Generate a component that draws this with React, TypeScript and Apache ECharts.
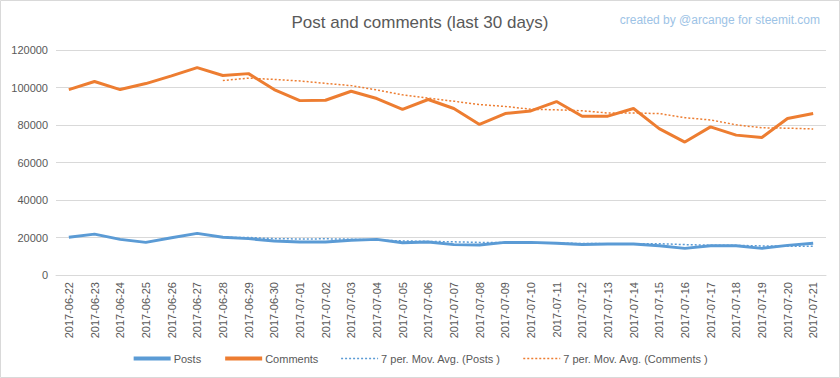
import React, { useEffect, useRef } from "react";
import * as echarts from "echarts";

const categories = [
  "2017-06-22", "2017-06-23", "2017-06-24", "2017-06-25", "2017-06-26", "2017-06-27",
  "2017-06-28", "2017-06-29", "2017-06-30", "2017-07-01", "2017-07-02", "2017-07-03",
  "2017-07-04", "2017-07-05", "2017-07-06", "2017-07-07", "2017-07-08", "2017-07-09",
  "2017-07-10", "2017-07-11", "2017-07-12", "2017-07-13", "2017-07-14", "2017-07-15",
  "2017-07-16", "2017-07-17", "2017-07-18", "2017-07-19", "2017-07-20", "2017-07-21",
];

const posts = [
  20100, 21800, 19000, 17400, 19900, 22200, 20100, 19400, 18100, 17600,
  17600, 18500, 19000, 17200, 17600, 16200, 16000, 17400, 17400, 16900,
  16300, 16500, 16500, 15600, 14200, 15600, 15600, 14200, 15800, 16900,
];

const comments = [
  98900, 103200, 98900, 102100, 106200, 110600, 106400, 107400, 98900, 93000,
  93200, 98000, 94100, 88300, 93600, 88800, 80300, 86100, 87500, 92500,
  84700, 84700, 88800, 78100, 70900, 79000, 74600, 73300, 83500, 86100,
];

const postsAvg = [
  null, null, null, null, null, null, 20100, 20000, 19400, 19200,
  19300, 19100, 18600, 18200, 17900, 17700, 17400, 17400, 17300, 17000,
  16800, 16700, 16700, 16700, 16200, 15900, 15800, 15500, 15400, 15400,
];

const commentsAvg = [
  null, null, null, null, null, null, 103700, 105000, 104300, 103500,
  102200, 101000, 98700, 96100, 94300, 92700, 90900, 89900, 88400, 88100,
  87600, 86400, 86400, 86100, 83900, 82700, 80100, 78500, 78300, 77900,
];

const seriesNames = [
  "Posts",
  "Comments",
  "7 per. Mov. Avg. (Posts )",
  "7 per. Mov. Avg. (Comments )",
];

const BLUE = "#5B9BD5";
const ORANGE = "#ED7D31";
const TEXT = "#595959";
const GRID = "#D9D9D9";
const FONT = "'Liberation Sans', Arial, sans-serif";

export default function App() {
  const ref = useRef<HTMLDivElement>(null);
  useEffect(() => {
    document.body.style.margin = "0";
    const chart = echarts.init(ref.current!, null, { renderer: "svg" });
    const hidden = { opacity: 0 };
    chart.setOption({
      animation: false,
      backgroundColor: "#ffffff",
      textStyle: { fontFamily: FONT },
      title: [
        {
          text: "Post and comments (last 30 days)",
          left: "center",
          top: 9,
          textStyle: { fontSize: 17, fontWeight: "normal", color: TEXT, fontFamily: FONT },
        },
        {
          text: "created by @arcange for steemit.com",
          right: 15,
          top: 9,
          textStyle: { fontSize: 12, fontWeight: "normal", color: "#9DC3E6", fontFamily: FONT },
        },
      ],
      graphic: [
        {
          type: "rect",
          shape: { x: 0.5, y: 0.5, width: 839, height: 377 },
          style: { fill: "none", stroke: GRID, lineWidth: 1 },
          silent: true,
        },
      ],
      grid: { left: 56, right: 14, top: 50, bottom: 103 },
      legend: {
        bottom: 9,
        left: "center",
        itemWidth: 37,
        itemHeight: 10,
        itemGap: 22,
        textStyle: { color: TEXT, fontSize: 11, fontFamily: FONT, padding: [0, 0, 0, -2] },
        data: [
          { name: seriesNames[0], itemStyle: hidden, lineStyle: { width: 4, color: BLUE, type: "solid" } },
          { name: seriesNames[1], itemStyle: hidden, lineStyle: { width: 4, color: ORANGE, type: "solid" } },
          { name: seriesNames[2], itemStyle: hidden, lineStyle: { width: 1.5, color: BLUE, type: [2, 2] } },
          { name: seriesNames[3], itemStyle: hidden, lineStyle: { width: 1.5, color: ORANGE, type: [2, 2] } },
        ],
      },
      xAxis: {
        type: "category",
        data: categories,
        boundaryGap: true,
        axisLine: { lineStyle: { color: GRID } },
        axisTick: { show: false },
        axisLabel: { rotate: 90, color: TEXT, fontSize: 11, margin: 7, interval: 0, fontFamily: FONT },
      },
      yAxis: {
        type: "value",
        min: 0,
        max: 120000,
        interval: 20000,
        axisLine: { show: false },
        axisTick: { show: false },
        splitLine: { lineStyle: { color: GRID } },
        axisLabel: {
          color: TEXT,
          fontSize: 11,
          margin: 8,
          fontFamily: FONT,
          formatter: (v: number) => String(v),
        },
      },
      series: [
        {
          name: seriesNames[0],
          type: "line",
          data: posts,
          symbol: "none",
          lineStyle: { color: BLUE, width: 3 },
          itemStyle: { color: BLUE },
        },
        {
          name: seriesNames[1],
          type: "line",
          data: comments,
          symbol: "none",
          lineStyle: { color: ORANGE, width: 3 },
          itemStyle: { color: ORANGE },
        },
        {
          name: seriesNames[2],
          type: "line",
          data: postsAvg,
          symbol: "none",
          lineStyle: { color: BLUE, width: 1.5, type: [2, 2] },
          itemStyle: { color: BLUE },
        },
        {
          name: seriesNames[3],
          type: "line",
          data: commentsAvg,
          symbol: "none",
          lineStyle: { color: ORANGE, width: 1.5, type: [2, 2] },
          itemStyle: { color: ORANGE },
        },
      ],
    });
    return () => chart.dispose();
  }, []);
  return <div ref={ref} style={{ width: 840, height: 378 }} />;
}
